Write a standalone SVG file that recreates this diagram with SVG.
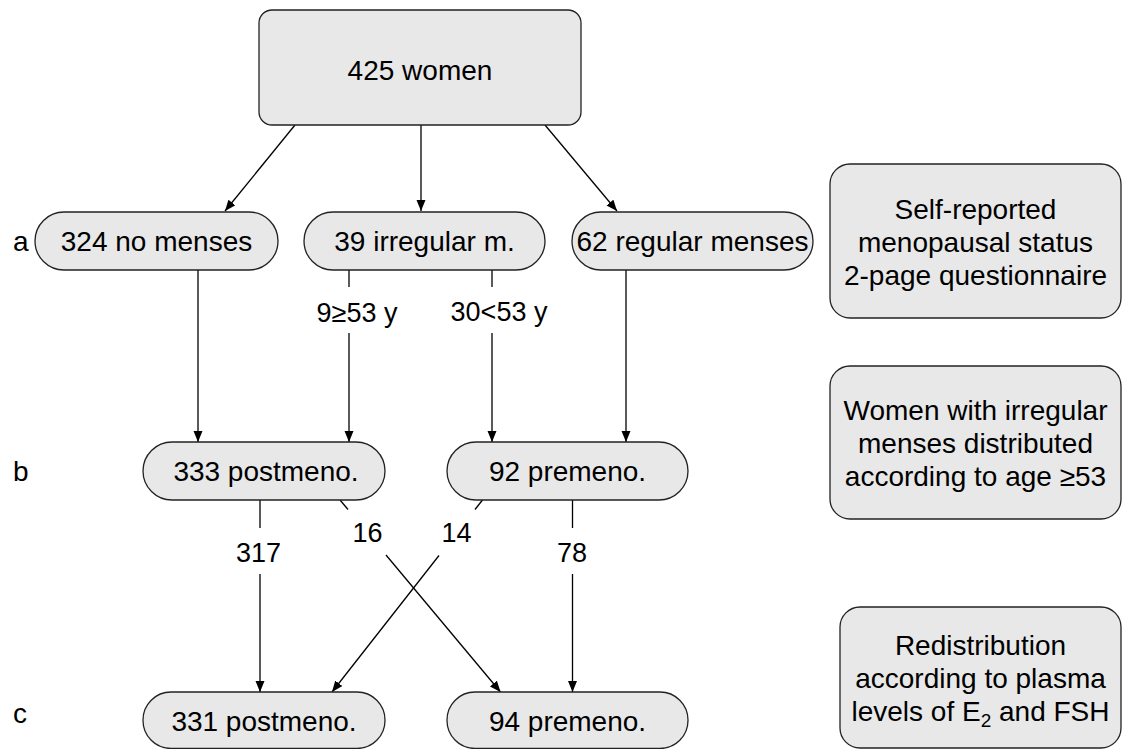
<svg xmlns="http://www.w3.org/2000/svg" width="1122" height="749" viewBox="0 0 1122 749">
<defs>
<marker id="arr" markerUnits="userSpaceOnUse" markerWidth="12" markerHeight="10" refX="11" refY="4.5" orient="auto">
<path d="M0,0 L11,4.5 L0,9 Z" fill="#000"/>
</marker>
<style>
.node{fill:#e8e8e8;stroke:#222;stroke-width:1.3}
.t{font-family:"Liberation Sans",Arial,sans-serif;font-size:28px;fill:#000;text-anchor:middle}
.lb{font-family:"Liberation Sans",Arial,sans-serif;font-size:27px;fill:#000;text-anchor:middle}
.side{font-family:"Liberation Sans",Arial,sans-serif;font-size:28px;fill:#000}
.c{stroke:#000;stroke-width:1.3;fill:none}
.a{marker-end:url(#arr)}
</style>
</defs>
<rect width="1122" height="749" fill="#fff"/>

<g id="connectors">
<line class="c a" x1="295" y1="125" x2="225" y2="211"/>
<line class="c a" x1="421" y1="125" x2="421" y2="211"/>
<line class="c a" x1="545" y1="125" x2="617" y2="211"/>
<line class="c a" x1="198" y1="270" x2="198" y2="442"/>
<line class="c" x1="349" y1="270" x2="349" y2="287"/>
<line class="c a" x1="349" y1="333" x2="349" y2="442"/>
<line class="c" x1="492" y1="270" x2="492" y2="287"/>
<line class="c a" x1="492" y1="333" x2="492" y2="442"/>
<line class="c a" x1="626" y1="270" x2="626" y2="442"/>
<line class="c" x1="260" y1="500" x2="260" y2="528"/>
<line class="c a" x1="260" y1="574" x2="260" y2="692"/>
<line class="c" x1="572.5" y1="500" x2="572.5" y2="528"/>
<line class="c a" x1="572.5" y1="574" x2="572.5" y2="692"/>
<line class="c" x1="340" y1="500" x2="348" y2="509.5"/>
<line class="c a" x1="386" y1="555" x2="500.5" y2="692"/>
<line class="c" x1="482.5" y1="500" x2="475" y2="509.5"/>
<line class="c a" x1="439" y1="555.5" x2="332" y2="692"/>
<text class="lb" x="357" y="322">9≥53 y</text>
<text class="lb" x="499" y="321">30&lt;53 y</text>
<text class="lb" x="258.5" y="562">317</text>
<text class="lb" x="367.5" y="542">16</text>
<text class="lb" x="456.5" y="542">14</text>
<text class="lb" x="572" y="562">78</text>
</g>

<g id="n-all">
<rect class="node" x="259" y="10" width="322" height="115" rx="13"/>
<text class="t" x="420" y="80">425 women</text>
</g>
<g id="n-none">
<rect class="node" x="35" y="212" width="243" height="58" rx="29"/>
<text class="t" x="156.5" y="251">324 no menses</text>
</g>
<g id="n-irreg">
<rect class="node" x="304" y="212" width="241" height="58" rx="29"/>
<text class="t" x="424.5" y="251">39 irregular m.</text>
</g>
<g id="n-reg">
<rect class="node" x="572" y="212" width="241" height="58" rx="29"/>
<text class="t" x="692.5" y="251">62 regular menses</text>
</g>
<g id="n-post-b">
<rect class="node" x="143" y="442" width="242" height="58" rx="29"/>
<text class="t" x="266" y="481">333 postmeno.</text>
</g>
<g id="n-pre-b">
<rect class="node" x="447" y="442" width="241" height="58" rx="29"/>
<text class="t" x="567.5" y="481">92 premeno.</text>
</g>
<g id="n-post-c">
<rect class="node" x="143" y="692" width="242" height="56.5" rx="28"/>
<text class="t" x="264" y="731">331 postmeno.</text>
</g>
<g id="n-pre-c">
<rect class="node" x="447" y="692" width="241" height="56.5" rx="28"/>
<text class="t" x="567.5" y="731">94 premeno.</text>
</g>

<g id="label-a"><text class="side" x="13" y="251">a</text></g>
<g id="label-b"><text class="side" x="13" y="481">b</text></g>
<g id="label-c"><text class="side" x="13" y="723">c</text></g>

<g id="note-1">
<rect class="node" x="830" y="164" width="291" height="154" rx="20"/>
<text class="t" x="975.5" y="219">Self-reported</text>
<text class="t" x="975.5" y="252">menopausal status</text>
<text class="t" x="975.5" y="285">2-page questionnaire</text>
</g>
<g id="note-2">
<rect class="node" x="830" y="366" width="291" height="153" rx="20"/>
<text class="t" x="975.5" y="420">Women with irregular</text>
<text class="t" x="975.5" y="453">menses distributed</text>
<text class="t" x="975.5" y="486">according to age ≥53</text>
</g>
<g id="note-3">
<rect class="node" x="840" y="607" width="281" height="141" rx="20"/>
<text class="t" x="980.5" y="655">Redistribution</text>
<text class="t" x="980.5" y="688">according to plasma</text>
<text class="t" x="980.5" y="721">levels of E<tspan font-size="19" dy="6">2</tspan><tspan dy="-6"> and FSH</tspan></text>
</g>
</svg>
